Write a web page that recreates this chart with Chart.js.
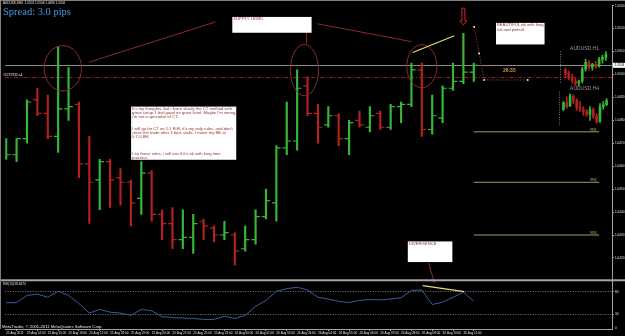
<!DOCTYPE html>
<html lang="fr">
<head>
<meta charset="utf-8">
<title>AUDUSD M30</title>
<script src="https://cdn.jsdelivr.net/npm/chart.js@4.4.1/dist/chart.umd.min.js"></script>
<style>
  html, body { margin: 0; padding: 0; background: #000; }
  canvas { display: block; background: #000; }
</style>
</head>
<body>
<canvas id="chart" width="625" height="336"></canvas>
<script>
/*
 * AUDUSD M30 - copie d'une capture MetaTrader 4
 * Barres OHLC, RSI(14) en sous-fenêtre, objets graphiques dessinés par plugin
 */

// Données : barres M30
const opens  = [1.0464, 1.0465, 1.0472, 1.0489, 1.0483, 1.0473, 1.0485, 1.0487, 1.0461, 1.0454,
                1.0462, 1.0455, 1.0453, 1.0446, 1.0457, 1.0439, 1.0435, 1.0428, 1.0429, 1.0436,
                1.0433, 1.0430, 1.0430, 1.0424, 1.0428, 1.0438, 1.0444, 1.0468, 1.0471, 1.0495,
                1.0483, 1.0478, 1.0482, 1.0472, 1.0480, 1.0477, 1.0483, 1.0477, 1.0486, 1.0487,
                1.0502, 1.0476, 1.0481, 1.0494, 1.0497, 1.0501];
const highs  = [1.0472, 1.0472, 1.0489, 1.0494, 1.0491, 1.0512, 1.0503, 1.0488, 1.0473, 1.0463,
                1.0463, 1.0459, 1.0454, 1.0462, 1.0458, 1.0441, 1.0442, 1.0441, 1.0439, 1.0437,
                1.0434, 1.0436, 1.0431, 1.0434, 1.0441, 1.0450, 1.0469, 1.0488, 1.0502, 1.0499,
                1.0487, 1.0486, 1.0483, 1.0480, 1.0484, 1.0486, 1.0484, 1.0487, 1.0488, 1.0505,
                1.0505, 1.0491, 1.0495, 1.0505, 1.0518, 1.0505];
const lows   = [1.0463, 1.0462, 1.0470, 1.0482, 1.0472, 1.0466, 1.0480, 1.0455, 1.0435, 1.0441,
                1.0442, 1.0443, 1.0434, 1.0439, 1.0436, 1.0428, 1.0424, 1.0424, 1.0422, 1.0428,
                1.0427, 1.0428, 1.0417, 1.0423, 1.0426, 1.0437, 1.0436, 1.0465, 1.0467, 1.0482,
                1.0470, 1.0477, 1.0469, 1.0465, 1.0477, 1.0475, 1.0476, 1.0476, 1.0479, 1.0486,
                1.0473, 1.0474, 1.0479, 1.0493, 1.0496, 1.0497];
const closes = [1.0465, 1.0472, 1.0488, 1.0483, 1.0473, 1.0485, 1.0486, 1.0461, 1.0453, 1.0462,
                1.0454, 1.0453, 1.0444, 1.0457, 1.0439, 1.0435, 1.0428, 1.0429, 1.0435, 1.0434,
                1.0430, 1.0431, 1.0423, 1.0428, 1.0438, 1.0445, 1.0468, 1.0471, 1.0494, 1.0483,
                1.0477, 1.0482, 1.0472, 1.0479, 1.0478, 1.0482, 1.0477, 1.0486, 1.0487, 1.0502,
                1.0476, 1.0482, 1.0494, 1.0497, 1.0501, 1.0504];

// RSI(14)
const rsiValues = [56, 56, 72, 75, 68, 81, 72, 54, 33, 41, 35, 33, 28, 41, 38, 25, 23, 22, 21, 19,
                   19, 26, 21, 28, 48, 61, 81, 87, 90, 84, 68, 64, 59, 56, 61, 63, 62, 64, 67, 83,
                   84, 52, 57, 68, 79, 59];

// Axes
const timeLabels = ['25 Aug 2011', '25 Aug 14:00', '25 Aug 15:00', '25 Aug 16:00', '25 Aug 17:00',
                    '25 Aug 18:00', '25 Aug 19:00', '25 Aug 20:00', '25 Aug 21:00', '25 Aug 22:00',
                    '25 Aug 23:00', '26 Aug 00:00', '26 Aug 01:00', '26 Aug 02:00', '26 Aug 03:00',
                    '26 Aug 04:00', '26 Aug 05:00', '26 Aug 06:00', '26 Aug 07:00', '26 Aug 08:00',
                    '26 Aug 09:00', '26 Aug 10:00', '26 Aug 11:00'];
const priceTicks = [1.0530, 1.0525, 1.0520, 1.0515, 1.0510, 1.0505, 1.0500, 1.0495, 1.0490, 1.0485,
                    1.0480, 1.0475, 1.0470, 1.0465, 1.0460, 1.0455, 1.0450, 1.0445, 1.0440, 1.0435,
                    1.0430, 1.0425, 1.0420, 1.0415];
const rsiTicks = [0, 20, 30, 70, 80, 100];
const rsiLevels = [20, 30, 70, 80];

// Niveaux (prix courant, ligne horizontale, objectifs)
const bidPrice = 1.0504;
const hLinePrice = 1.0499;
const targetPrices = [1.0475, 1.0453, 1.0430];
const targetLabels = ['RR1', 'RR2', 'RR3'];

// Mini-graphiques H1 / H4 (O/H/L/C)
const h1Opens  = [1.0473, 1.0464, 1.0452, 1.0440, 1.0434, 1.0440, 1.0476, 1.0497, 1.0482, 1.0491, 1.0485, 1.0506, 1.0512];
const h1Highs  = [1.0479, 1.0470, 1.0461, 1.0449, 1.0443, 1.0482, 1.0506, 1.0503, 1.0494, 1.0500, 1.0512, 1.0518, 1.0530];
const h1Lows   = [1.0452, 1.0443, 1.0434, 1.0425, 1.0425, 1.0434, 1.0470, 1.0473, 1.0473, 1.0479, 1.0482, 1.0494, 1.0503];
const h1Closes = [1.0461, 1.0449, 1.0440, 1.0431, 1.0440, 1.0476, 1.0497, 1.0482, 1.0491, 1.0485, 1.0506, 1.0512, 1.0521];
const h4Opens  = [1.0480, 1.0515, 1.0500, 1.0545, 1.0525, 1.0490, 1.0480, 1.0470, 1.0455, 1.0480, 1.0445, 1.0420, 1.0495, 1.0505];
const h4Highs  = [1.0520, 1.0545, 1.0560, 1.0555, 1.0535, 1.0520, 1.0495, 1.0480, 1.0495, 1.0490, 1.0460, 1.0510, 1.0520, 1.0535];
const h4Lows   = [1.0475, 1.0485, 1.0495, 1.0510, 1.0475, 1.0470, 1.0450, 1.0445, 1.0425, 1.0435, 1.0410, 1.0415, 1.0480, 1.0500];
const h4Closes = [1.0515, 1.0495, 1.0550, 1.0525, 1.0490, 1.0480, 1.0470, 1.0455, 1.0480, 1.0445, 1.0420, 1.0495, 1.0505, 1.0525];

// Configuration
const CONFIG = {
  WIDTH: 625,
  PLOT_W: 612,
  PLOT_H: 329,
  MAIN_H: 279,
  RSI_H: 50,
  AXIS_W: 13,
  XAXIS_H: 7,
  BAR_PX: 10.48,
  PRICE_PER_PX: 0.0005 / 11.65,
  TICK_OFFSET: 0.21
};

const COLORS = {
  up: '#36b836',
  down: '#b32121',
  axis: '#a0a0a0',
  text: '#e6e6e6',
  rsi: '#3a5d98',
  note: '#8a2c2c',
  noteText: '#8b3434',
  yellow: '#e8dc78',
  olive: '#a39b6a',
  level: '#8c8c8c'
};

const FONT = 'Liberation Sans, Arial, sans-serif';

// Objets graphiques (en index de barre / prix)
const ellipses = [
  { x: 5.45, price: 1.05027, rx: 1.8, ry: 0.00099 },
  { x: 28.7, price: 1.05019, rx: 1.35, ry: 0.00112 },
  { x: 40.0, price: 1.05036, rx: 1.45, ry: 0.00094 }
];

const trendLines = [
  { from: [7.92, 1.05053, 'y'], to: [20.13, 1.05229, 'y'], color: COLORS.note },
  { from: [28.91, 1.05182, 'y'], to: [28.91, 1.05135, 'y'], color: COLORS.note },
  { from: [29.96, 1.05221, 'y'], to: [39.03, 1.05143, 'y'], color: COLORS.note },
  { from: [39.12, 1.05096, 'y'], to: [43.13, 1.05169, 'y'], color: COLORS.yellow, width: 1.2 },
  { from: [40.65, 1.04178, 'y'], to: [41.22, 100, 'yRsi'], color: COLORS.note },
  { from: [40.08, 93.5, 'yRsi'], to: [44.08, 80.4, 'yRsi'], color: COLORS.yellow, width: 1.2 }
];

const projection = [[45.04, 1.05208], [45.52, 1.05092], [46.0, 1.04976], [50.19, 1.04976]];

const noteBoxes = [
  { x0: 21.76, x1: 29.39, top: 1.05251, bottom: 1.05182, lines: ['SUPPLY LEVEL'] },
  { x0: 47.14, x1: 51.81, top: 1.05225, bottom: 1.05131,
    lines: ['BEAUTIFUL pb with long', 'tail and pinbull.'] },
  { x0: 12.02, x1: 22.14, top: 1.04860, bottom: 1.04628, lineHeight: 4.05, lines: [
    "It's my thoughts, but i learn slowly the CT method with",
    "great setup. I feel good on great level. Maybe I'm wrong,",
    "i'm not a specialist of CT.",
    '', '',
    "I will go for CT on 1:1 R:R, it's my only rules, and don't",
    'close the trade after 3 bars stalls. I move my BE at',
    '0.7-0.8R.',
    '', '', '',
    "I try these rules, i will see if it's ok with long time",
    'practice.'
  ] },
  { x0: 38.65, x1: 42.94, top: 1.04272, bottom: 1.04182, lines: ['DIVERGENCE'] }
];

// Utilitaires
function rangeFor(value, pixel, unitsPerPx, lengthPx, inverted) {
  if (inverted) {
    const max = value + pixel * unitsPerPx;
    return { min: max - lengthPx * unitsPerPx, max };
  }
  const min = value - pixel * unitsPerPx;
  return { min, max: min + lengthPx * unitsPerPx };
}

function barColor(o, c) {
  return c >= o ? COLORS.up : COLORS.down;
}

function seg(ctx, x1, y1, x2, y2) {
  ctx.beginPath();
  ctx.moveTo(x1, y1);
  ctx.lineTo(x2, y2);
  ctx.stroke();
}

function fixWidth(w) {
  return (scale) => { scale.width = w; };
}

const mainColors = opens.map((o, i) => barColor(o, closes[i]));
const h1Colors = h1Opens.map((o, i) => barColor(o, h1Closes[i]));
const h4Colors = h4Opens.map((o, i) => barColor(o, h4Closes[i]));

const xRange = rangeFor(0, 1, 1 / CONFIG.BAR_PX, CONFIG.PLOT_W, false);
const yRange = rangeFor(1.0530, 0.5, CONFIG.PRICE_PER_PX, CONFIG.MAIN_H, true);
const rsiRange = rangeFor(100, 3, 100 / 46, CONFIG.RSI_H, true);
const xH1Range = rangeFor(0, 565, 1 / 3.4, CONFIG.PLOT_W, false);
const yH1Range = rangeFor(1.0530, 47, 0.0003, CONFIG.PLOT_H, true);
const xH4Range = rangeFor(0, 563, 1 / 3.35, CONFIG.PLOT_W, false);
const yH4Range = rangeFor(1.0570, 88, 0.0005, CONFIG.PLOT_H, true);

// Jeux de données
function wickDataset(lo, hi, colors, xAxisID, yAxisID, thickness) {
  return {
    type: 'bar',
    data: lo.map((l, i) => ({ x: i, y: [l, hi[i]] })),
    backgroundColor: colors,
    barThickness: thickness,
    grouped: false,
    xAxisID,
    yAxisID
  };
}

function tickDataset(values, offset) {
  return {
    type: 'scatter',
    data: values.map((v, i) => ({ x: i + offset, y: v })),
    pointStyle: 'line',
    pointRadius: 2.1,
    pointBorderWidth: 1.2,
    pointBorderColor: mainColors,
    pointBackgroundColor: mainColors,
    xAxisID: 'x',
    yAxisID: 'y'
  };
}

const datasets = [
  wickDataset(lows, highs, mainColors, 'x', 'y', 1.5),
  tickDataset(opens, -CONFIG.TICK_OFFSET),
  tickDataset(closes, CONFIG.TICK_OFFSET),
  {
    type: 'line',
    data: rsiValues.map((v, i) => ({ x: i, y: v })),
    borderColor: COLORS.rsi,
    borderWidth: 1,
    pointRadius: 0,
    tension: 0,
    xAxisID: 'x',
    yAxisID: 'yRsi'
  },
  ...targetPrices.map(p => ({
    type: 'line',
    data: [{ x: 45, y: p }, { x: 57.06, y: p }],
    borderColor: COLORS.olive,
    borderWidth: 1,
    pointRadius: 0,
    xAxisID: 'x',
    yAxisID: 'y'
  })),
  wickDataset(h1Lows, h1Highs, h1Colors, 'xH1', 'yH1', 1),
  wickDataset(h1Opens.map((o, i) => Math.min(o, h1Closes[i])), h1Opens.map((o, i) => Math.max(o, h1Closes[i])), h1Colors, 'xH1', 'yH1', 2),
  wickDataset(h4Lows, h4Highs, h4Colors, 'xH4', 'yH4', 1),
  wickDataset(h4Opens.map((o, i) => Math.min(o, h4Closes[i])), h4Opens.map((o, i) => Math.max(o, h4Closes[i])), h4Colors, 'xH4', 'yH4', 2)
];

// Objets MT4 (lignes, ellipses, textes)
const mt4Objects = {
  id: 'mt4Objects',
  beforeDatasetsDraw(chart) {
    const { ctx, chartArea: a } = chart;
    const Y = v => chart.scales.y.getPixelForValue(v);
    ctx.save();
    ctx.lineWidth = 1;
    ctx.strokeStyle = COLORS.level;
    const yb = Math.round(Y(bidPrice)) + 0.5;
    seg(ctx, a.left, yb, a.right, yb);
    ctx.strokeStyle = '#a31c1c';
    ctx.setLineDash([4, 2, 1, 2]);
    const yr = Math.round(Y(hLinePrice)) + 0.5;
    seg(ctx, a.left, yr, a.right, yr);
    ctx.setLineDash([]);
    ctx.fillStyle = COLORS.text;
    ctx.font = `3.3px ${FONT}`;
    ctx.textBaseline = 'bottom';
    ctx.fillText('#5272932 a4', 3, yr - 0.5);

    // cadres des mini-graphiques
    const xh1 = chart.scales.xH1, yh1 = chart.scales.yH1;
    const xh4 = chart.scales.xH4, yh4 = chart.scales.yH4;
    ctx.strokeStyle = '#777';
    ctx.setLineDash([1, 1.5]);
    const d1 = Math.round(xh1.getPixelForValue(-1.5)) + 0.5;
    seg(ctx, d1, yh1.getPixelForValue(1.0530), d1, yh1.getPixelForValue(1.0431));
    const d4 = Math.round(xh4.getPixelForValue(-1.2)) + 0.5;
    seg(ctx, d4, yh4.getPixelForValue(1.0570), d4, yh4.getPixelForValue(1.0400));
    ctx.setLineDash([]);
    ctx.fillStyle = '#9a9a9a';
    ctx.font = `5px ${FONT}`;
    ctx.textBaseline = 'bottom';
    ctx.fillText('AUDUSD H1', xh1.getPixelForValue(1.4), yh1.getPixelForValue(1.0530) - 0.5);
    ctx.fillText('AUDUSD H4', xh4.getPixelForValue(2.0), yh4.getPixelForValue(1.0570) - 0.5);
    ctx.restore();
  },
  afterDatasetsDraw(chart) {
    const { ctx } = chart;
    const X = v => chart.scales.x.getPixelForValue(v);
    const Y = v => chart.scales.y.getPixelForValue(v);
    const P = (v, axis) => chart.scales[axis].getPixelForValue(v);
    ctx.save();

    // ellipses
    ctx.lineWidth = 1;
    ctx.strokeStyle = COLORS.note;
    ellipses.forEach(e => {
      ctx.beginPath();
      ctx.ellipse(X(e.x), Y(e.price), X(e.x + e.rx) - X(e.x), Y(e.price - e.ry) - Y(e.price), 0, 0, Math.PI * 2);
      ctx.stroke();
    });

    // lignes de tendance
    trendLines.forEach(t => {
      ctx.strokeStyle = t.color;
      ctx.lineWidth = t.width || 1;
      seg(ctx, X(t.from[0]), P(t.from[1], t.from[2]), X(t.to[0]), P(t.to[1], t.to[2]));
    });

    // projection pointillée
    ctx.strokeStyle = COLORS.note;
    ctx.lineWidth = 1;
    ctx.setLineDash([1.5, 1.5]);
    ctx.beginPath();
    projection.forEach(([x, p], i) => (i ? ctx.lineTo(X(x), Y(p)) : ctx.moveTo(X(x), Y(p))));
    ctx.stroke();
    ctx.setLineDash([]);
    ctx.fillStyle = '#ffffff';
    projection.forEach(([x, p]) => ctx.fillRect(X(x) - 0.8, Y(p) - 0.8, 1.6, 1.6));

    // flèche au-dessus de la pin bar
    const ax = X(44), at = Y(1.05289), ab = Y(1.05216), am = ab - 4;
    ctx.strokeStyle = '#d02828';
    ctx.beginPath();
    ctx.moveTo(ax - 1.5, at); ctx.lineTo(ax + 1.5, at); ctx.lineTo(ax + 1.5, am);
    ctx.lineTo(ax + 3.5, am); ctx.lineTo(ax, ab); ctx.lineTo(ax - 3.5, am);
    ctx.lineTo(ax - 1.5, am); ctx.closePath();
    ctx.stroke();

    // cadres de texte
    noteBoxes.forEach(b => {
      const x0 = X(b.x0), x1 = X(b.x1), y0 = Y(b.top), y1 = Y(b.bottom);
      ctx.fillStyle = '#ffffff';
      ctx.fillRect(x0, y0, x1 - x0, y1 - y0);
      ctx.fillStyle = COLORS.noteText;
      ctx.font = `4.2px ${FONT}`;
      ctx.textBaseline = 'middle';
      const lh = b.lineHeight || 4.3;
      b.lines.forEach((line, i) => ctx.fillText(line, x0 + 1, y0 + 2.4 + i * lh));
    });

    // étiquettes des objectifs
    ctx.font = `3.2px ${FONT}`;
    ctx.textBaseline = 'bottom';
    ctx.fillStyle = '#c8bd6a';
    targetPrices.forEach((p, i) => {
      ctx.fillText(targetLabels[i], X(56.2), Y(p) - 0.5);
    });

    // compte à rebours de la bougie
    ctx.font = `bold 5px ${FONT}`;
    ctx.fillStyle = '#d49a45';
    ctx.textBaseline = 'middle';
    ctx.fillText('26:35', X(47.8), Y(1.05015));

    // textes d'en-tête
    ctx.font = `10.5px Liberation Serif, Times New Roman, serif`;
    ctx.fillStyle = '#3d9be0';
    ctx.textBaseline = 'alphabetic';
    ctx.fillText('Spread: 3.0 pips', 3, 14.5);
    ctx.restore();
  },
  afterDraw(chart) {
    const { ctx, chartArea: a } = chart;
    const yMain = chart.scales.y;
    ctx.save();
    // séparateur entre les fenêtres
    ctx.fillStyle = '#a5a5a5';
    ctx.fillRect(0, yMain.bottom - 0.5, CONFIG.WIDTH, 2);
    ctx.fillStyle = '#808080';
    ctx.fillRect(0, 0, CONFIG.WIDTH, 1);
    ctx.fillRect(0, 0, 1, a.bottom);

    // étiquette du prix courant
    const yb = yMain.getPixelForValue(bidPrice);
    ctx.fillStyle = '#ffffff';
    ctx.fillRect(a.right + 1, yb - 2.5, CONFIG.AXIS_W - 1, 5);
    ctx.fillStyle = '#000000';
    ctx.font = `3.2px ${FONT}`;
    ctx.textBaseline = 'middle';
    ctx.fillText(bidPrice.toFixed(4), a.right + 2.5, yb);

    ctx.fillStyle = COLORS.text;
    ctx.font = `3.1px ${FONT}`;
    ctx.fillText('AUDUSD,M30  1.0501 1.0506 1.0496 1.0504', 3, 3);
    ctx.fillText('RSI(14) 58.8474', 3, yMain.bottom + 4);
    ctx.font = `4.2px ${FONT}`;
    ctx.fillText('MetaTrader, \u00a9 2001-2011 MetaQuotes Software Corp.', 2, a.bottom - 2.5);
    ctx.restore();
  }
};

// Échelles
const axisTicks = { color: COLORS.text, font: { family: FONT, size: 3.1 }, padding: 1 };

function hiddenScale(axis, range) {
  return { type: 'linear', axis, display: false, min: range.min, max: range.max, offset: false };
}

const scales = {
  x: {
    type: 'linear',
    position: 'bottom',
    min: xRange.min,
    max: xRange.max,
    offset: false,
    afterBuildTicks: (scale) => { scale.ticks = timeLabels.map((_, k) => ({ value: 2 * k })); },
    afterFit: (scale) => { scale.height = CONFIG.XAXIS_H; },
    ticks: {
      ...axisTicks,
      padding: 0.5,
      align: 'start',
      autoSkip: false,
      maxRotation: 0,
      callback: (v) => timeLabels[Math.round(v / 2)]
    },
    grid: { drawOnChartArea: false, tickLength: 2, color: COLORS.axis },
    border: { color: COLORS.axis }
  },
  y: {
    type: 'linear',
    position: 'right',
    stack: 'panes',
    stackWeight: CONFIG.MAIN_H,
    min: yRange.min,
    max: yRange.max,
    afterBuildTicks: (scale) => { scale.ticks = priceTicks.map(v => ({ value: v })); },
    afterFit: fixWidth(CONFIG.AXIS_W),
    ticks: { ...axisTicks, callback: (v) => v.toFixed(4) },
    grid: { drawOnChartArea: false, tickLength: 2, color: COLORS.axis },
    border: { color: COLORS.axis }
  },
  yRsi: {
    type: 'linear',
    position: 'right',
    stack: 'panes',
    stackWeight: CONFIG.RSI_H,
    min: rsiRange.min,
    max: rsiRange.max,
    afterBuildTicks: (scale) => { scale.ticks = rsiTicks.map(v => ({ value: v })); },
    afterFit: fixWidth(CONFIG.AXIS_W),
    ticks: { ...axisTicks, callback: (v) => String(v) },
    grid: {
      tickLength: 2,
      color: (ctx) => (rsiLevels.includes(ctx.tick && ctx.tick.value) ? '#7a7a7a' : 'rgba(0,0,0,0)')
    },
    border: { color: COLORS.axis, dash: [1, 1.5] }
  },
  xH1: hiddenScale('x', xH1Range),
  yH1: hiddenScale('y', yH1Range),
  xH4: hiddenScale('x', xH4Range),
  yH4: hiddenScale('y', yH4Range)
};

// Initialisation
new Chart(document.getElementById('chart'), {
  type: 'bar',
  data: { datasets },
  options: {
    responsive: false,
    animation: false,
    devicePixelRatio: 1,
    events: [],
    layout: { padding: 0 },
    plugins: { legend: { display: false }, tooltip: { enabled: false } },
    scales
  },
  plugins: [mt4Objects]
});
</script>
</body>
</html>
